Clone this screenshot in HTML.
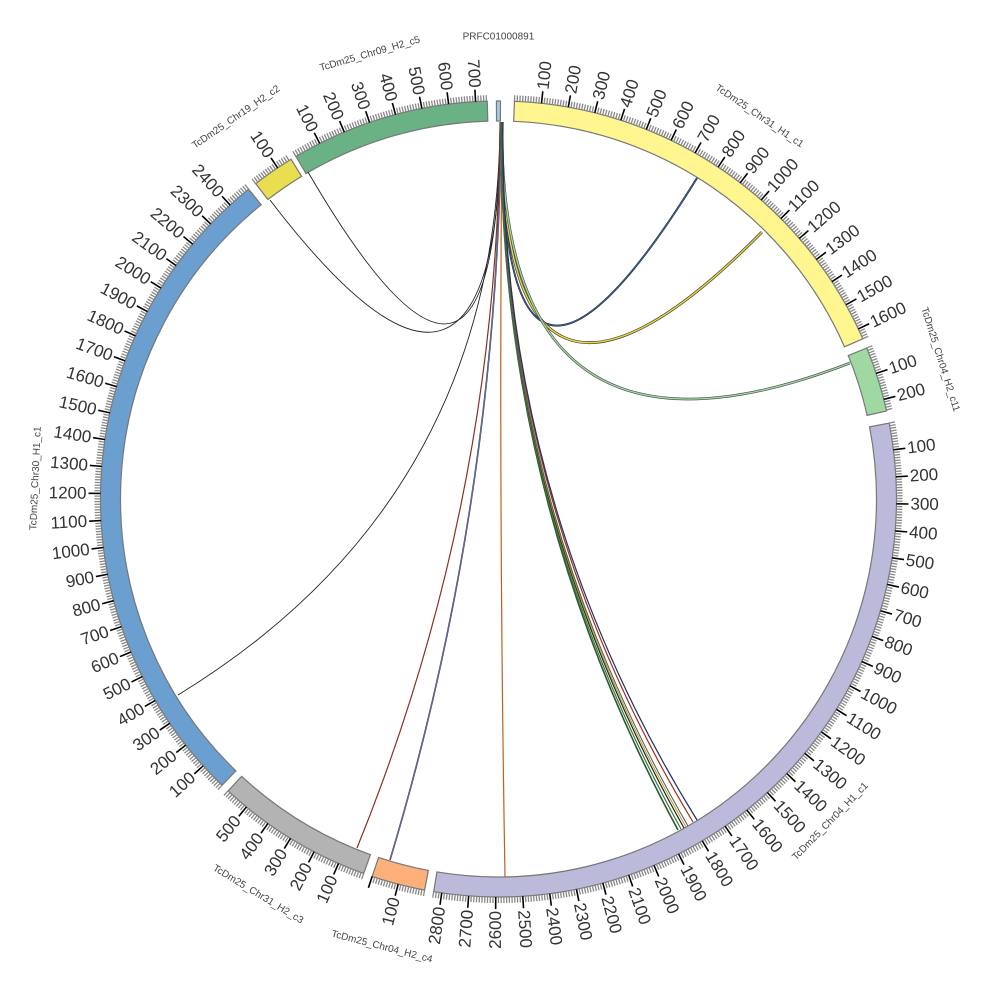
<!DOCTYPE html>
<html><head><meta charset="utf-8"><style>
html,body{margin:0;padding:0;background:#fff;width:1000px;height:1000px;overflow:hidden}
svg{display:block}
.lab text{font-family:"Liberation Sans",sans-serif;font-size:17px;fill:#333;dominant-baseline:central}
.nm{font-family:"Liberation Sans",sans-serif;font-size:10px;fill:#444;dominant-baseline:central;text-anchor:middle}
</style></head><body>
<svg id="s" width="1000" height="1000" viewBox="0 0 1000 1000" xmlns="http://www.w3.org/2000/svg">
<g id="segs"></g><g id="ticks"></g>
<g id="links" fill="none">
<path d="M500,122 Q498.5,499 308,172" stroke="#222" stroke-width="0.9"/>
<path d="M501,122 Q498.5,499 270,200" stroke="#222" stroke-width="0.9"/>
<path d="M502,122 Q498.5,499 697,178" stroke="#223" stroke-width="2"/>
<path d="M502,122 Q498.5,499 697,178" stroke="#3a6fb0" stroke-width="0.8"/>
<path d="M502,122 Q498.5,499 762,232" stroke="#333" stroke-width="2.8"/>
<path d="M502,122 Q498.5,499 762,232" stroke="#e8d640" stroke-width="1.5"/>
<path d="M502,122 Q498.5,499 850,363" stroke="#444" stroke-width="2.6"/>
<path d="M502,122 Q498.5,499 850,363" stroke="#9fd8a0" stroke-width="1.4"/>
<path d="M500,122 Q498.5,499 178,695" stroke="#222" stroke-width="0.9"/>
<path d="M500,122 Q498.5,499 357,848" stroke="#8a3020" stroke-width="1.2"/>
<path d="M501,122 Q498.5,499 390,860" stroke="#334" stroke-width="1.6"/>
<path d="M501,122 Q498.5,499 390,860" stroke="#7a8ad0" stroke-width="0.6"/>
<path d="M502,122 Q498.5,499 505,877" stroke="#c06020" stroke-width="1.2"/>
<path d="M501,122 Q498.5,499 678,830" stroke="#2d5a2d" stroke-width="1.6"/>
<path d="M501,122 Q498.5,499 681,829" stroke="#3a7a40" stroke-width="1.2"/>
<path d="M502,122 Q498.5,499 684,828" stroke="#222" stroke-width="1.2"/>
<path d="M502,122 Q498.5,499 686,827" stroke="#b0a020" stroke-width="1"/>
<path d="M502,122 Q498.5,499 688,826" stroke="#555" stroke-width="1"/>
<path d="M503,122 Q498.5,499 693,822" stroke="#a03020" stroke-width="1.2"/>
<path d="M503,122 Q498.5,499 697,820" stroke="#223366" stroke-width="1.2"/>
</g>
<g class="lab">
<g id="L_c9"><text>100</text><text>200</text><text>300</text><text>400</text><text>500</text><text>600</text><text>700</text></g>
<g id="L_c19"><text>100</text></g>
<g id="L_c30"><text>100</text><text>200</text><text>300</text><text>400</text><text>500</text><text>600</text><text>700</text><text>800</text><text>900</text><text>1000</text><text>1100</text><text>1200</text><text>1300</text><text>1400</text><text>1500</text><text>1600</text><text>1700</text><text>1800</text><text>1900</text><text>2000</text><text>2100</text><text>2200</text><text>2300</text><text>2400</text></g>
<g id="L_c3"><text>100</text><text>200</text><text>300</text><text>400</text><text>500</text></g>
<g id="L_c4"><text>100</text></g>
<g id="L_p"><text>100</text><text>200</text><text>300</text><text>400</text><text>500</text><text>600</text><text>700</text><text>800</text><text>900</text><text>1000</text><text>1100</text><text>1200</text><text>1300</text><text>1400</text><text>1500</text><text>1600</text><text>1700</text><text>1800</text><text>1900</text><text>2000</text><text>2100</text><text>2200</text><text>2300</text><text>2400</text><text>2500</text><text>2600</text><text>2700</text><text>2800</text></g>
<g id="L_y"><text>100</text><text>200</text><text>300</text><text>400</text><text>500</text><text>600</text><text>700</text><text>800</text><text>900</text><text>1000</text><text>1100</text><text>1200</text><text>1300</text><text>1400</text><text>1500</text><text>1600</text></g>
<g id="L_c11"><text>100</text><text>200</text></g>
</g>
<g>
<text class="nm" id="N_prfc">PRFC01000891</text>
<text class="nm" id="N_y">TcDm25_Chr31_H1_c1</text>
<text class="nm" id="N_c11">TcDm25_Chr04_H2_c11</text>
<text class="nm" id="N_p">TcDm25_Chr04_H1_c1</text>
<text class="nm" id="N_c4">TcDm25_Chr04_H2_c4</text>
<text class="nm" id="N_c3">TcDm25_Chr31_H2_c3</text>
<text class="nm" id="N_c30">TcDm25_Chr30_H1_c1</text>
<text class="nm" id="N_c19">TcDm25_Chr19_H2_c2</text>
<text class="nm" id="N_c9">TcDm25_Chr09_H2_c5</text>
</g>
</svg>
<script>
var cx=498.5,cy=499,R0=378,R1=398,k=0.039,NS="http://www.w3.org/2000/svg";
var S={
prfc:{s:-0.3,len:15,c:"#a6cee3"},
y:{s:2.3,len:1640,c:"#fff68f"},
c11:{s:67.7,len:244,c:"#a0d8a2"},
p:{s:79.0,len:2830,c:"#bcbadb"},
c4:{s:190.7,len:200,c:"#fdb07a"},
c3:{s:199.8,len:590,c:"#b3b3b3"},
c30:{s:224.0,len:2490,c:"#6a9fcf"},
c19:{s:322.4,len:159,c:"#e8de50"},
c9:{s:329.4,len:743,c:"#6ab184"}
};
function pt(a,r){a=a*Math.PI/180;return [cx+r*Math.sin(a),cy-r*Math.cos(a)];}
function el(n,at,p){var e=document.createElementNS(NS,n);for(var q in at)e.setAttribute(q,at[q]);p.appendChild(e);return e;}
var gs=document.getElementById("segs"),gt=document.getElementById("ticks");
for(var id in S){var g=S[id];var a0=g.s,a1=g.s+g.len*k;g.e=a1;
 var p0=pt(a0,R1),p1=pt(a1,R1),p2=pt(a1,R0),p3=pt(a0,R0);var lg=(a1-a0)>180?1:0;
 el("path",{d:"M"+p0+" A"+R1+","+R1+" 0 "+lg+" 1 "+p1+" L"+p2+" A"+R0+","+R0+" 0 "+lg+" 0 "+p3+"Z",fill:g.c,stroke:"#777","stroke-width":1.2},gs);
 if(id=="prfc")continue;
 for(var v=0;v<=g.len;v+=10){var a=a0+v*k;var maj=(v%100==0&&v>0);
  var q0=pt(a,R1),q1=pt(a,R1+(maj?12:6));
  el("line",{x1:q0[0],y1:q0[1],x2:q1[0],y2:q1[1],stroke:maj?"#000":"#888","stroke-width":maj?1.6:1.3},gt);}
 var L=document.getElementById("L_"+id);
 if(L){var ts=L.getElementsByTagName("text");for(var i=0;i<ts.length;i++){var t=ts[i];var v=parseInt(t.textContent);var a=a0+v*k;var an=((a%360)+360)%360;var q=pt(a,R1+14);
  if(an<180){t.setAttribute("x",q[0]);t.setAttribute("y",q[1]);t.setAttribute("text-anchor","start");t.setAttribute("transform","rotate("+(an-90)+" "+q[0]+" "+q[1]+")");}
  else{t.setAttribute("x",q[0]);t.setAttribute("y",q[1]);t.setAttribute("text-anchor","end");t.setAttribute("transform","rotate("+(an+90)+" "+q[0]+" "+q[1]+")");}}}
}
for(var id in S){var n=document.getElementById("N_"+id);if(!n)continue;var g=S[id];var m=(g.s+g.e)/2;var an=((m%360)+360)%360;var q=pt(m,id=="prfc"?462:463);
 var rot=(an>90&&an<270)?an-180:an;n.setAttribute("x",q[0]);n.setAttribute("y",q[1]);n.setAttribute("transform","rotate("+rot+" "+q[0]+" "+q[1]+")");}
</script>
</body></html>
